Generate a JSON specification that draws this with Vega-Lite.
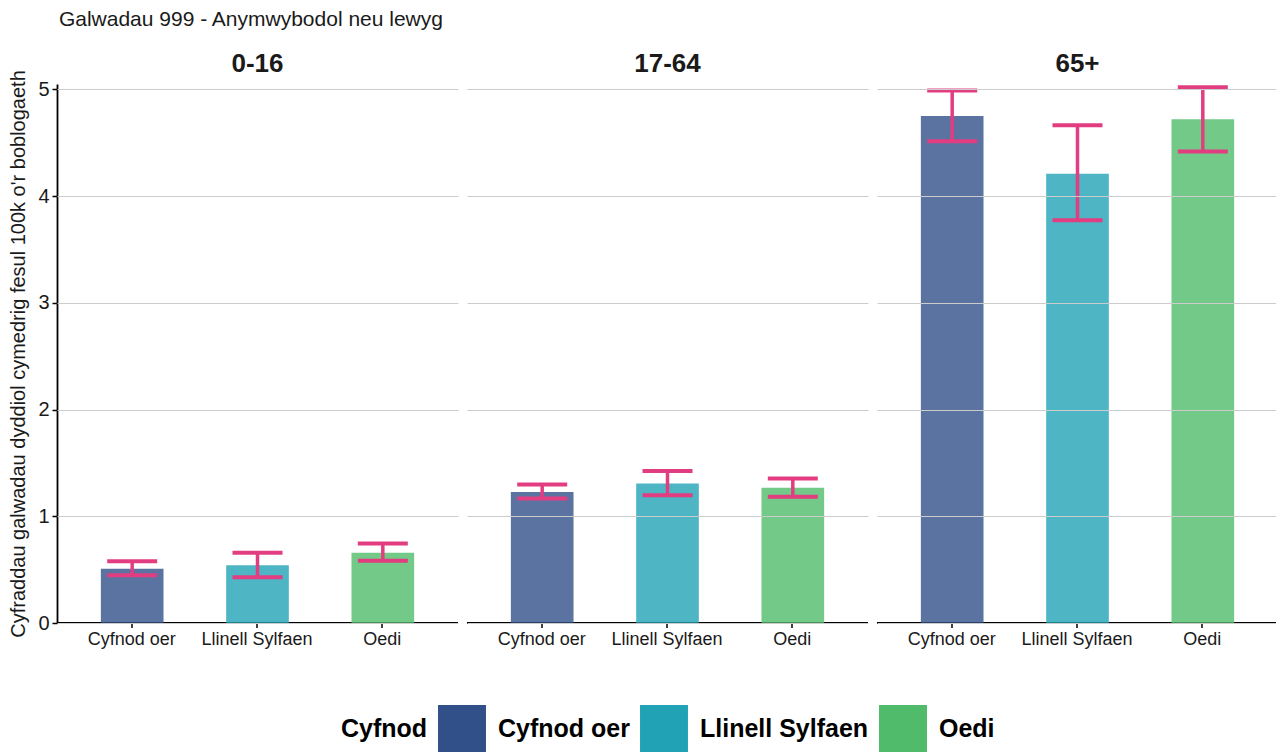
{
  "$schema": "https://vega.github.io/schema/vega-lite/v6.json",
  "padding": {"left": 8, "top": 9, "right": 0, "bottom": 0},
  "title": {"text": "Galwadau 999 - Anymwybodol neu lewyg", "anchor": "start", "fontSize": 21, "fontWeight": "normal", "font": "Liberation Sans", "color": "#1a1a1a", "offset": 21, "dx": 50},
  "data": {"values": [
    {"Oed": "0-16", "Cyfnod": "Cyfnod oer", "gwerth": 0.508, "isaf": 0.447, "uchaf": 0.578},
    {"Oed": "0-16", "Cyfnod": "Llinell Sylfaen", "gwerth": 0.54, "isaf": 0.428, "uchaf": 0.658},
    {"Oed": "0-16", "Cyfnod": "Oedi", "gwerth": 0.658, "isaf": 0.583, "uchaf": 0.746},
    {"Oed": "17-64", "Cyfnod": "Cyfnod oer", "gwerth": 1.227, "isaf": 1.167, "uchaf": 1.298},
    {"Oed": "17-64", "Cyfnod": "Llinell Sylfaen", "gwerth": 1.308, "isaf": 1.196, "uchaf": 1.423},
    {"Oed": "17-64", "Cyfnod": "Oedi", "gwerth": 1.267, "isaf": 1.183, "uchaf": 1.355},
    {"Oed": "65+", "Cyfnod": "Cyfnod oer", "gwerth": 4.75, "isaf": 4.513, "uchaf": 4.99},
    {"Oed": "65+", "Cyfnod": "Llinell Sylfaen", "gwerth": 4.21, "isaf": 3.773, "uchaf": 4.663},
    {"Oed": "65+", "Cyfnod": "Oedi", "gwerth": 4.72, "isaf": 4.417, "uchaf": 5.02}
  ]},
  "facet": {"column": {"field": "Oed", "type": "ordinal", "sort": ["0-16", "17-64", "65+"],
    "header": {"title": null, "labelFontSize": 26, "labelFontWeight": "bold", "labelFont": "Liberation Sans", "labelColor": "#1a1a1a", "labelPadding": 7}}},
  "spacing": 9,
  "spec": {
    "width": 401,
    "height": 539,
    "encoding": {
      "x": {"field": "Cyfnod", "type": "nominal", "sort": ["Cyfnod oer", "Llinell Sylfaen", "Oedi"],
        "scale": {"paddingInner": 0.5, "paddingOuter": 0.35},
        "axis": {"title": null, "labelAngle": 0, "labelFontSize": 18, "labelColor": "#1a1a1a", "domainColor": "#000000", "domainWidth": 2, "translate": 0, "tickColor": "#000000", "tickWidth": 1.5, "tickSize": 5, "labelPadding": 3, "grid": false, "zindex": 1}}
    },
    "layer": [
      {"mark": {"type": "bar", "opacity": 0.8},
       "encoding": {
         "y": {"field": "gwerth", "type": "quantitative", "scale": {"domain": [0, 5.05], "nice": false},
           "axis": {"title": "Cyfraddau galwadau dyddiol cymedrig fesul 100k o'r boblogaeth", "values": [0, 1, 2, 3, 4, 5], "format": "d", "titleFontSize": 20, "titleFontWeight": "normal", "titleColor": "#1a1a1a", "labelFontSize": 20, "labelColor": "#1a1a1a", "domainColor": "#000000", "domainWidth": 1.8, "tickColor": "#000000", "tickWidth": 1.5, "tickSize": 5, "labelPadding": 3, "gridColor": "#cccccc", "gridWidth": 1, "titlePadding": 9, "zindex": 1}},
         "color": {"field": "Cyfnod", "type": "nominal", "sort": ["Cyfnod oer", "Llinell Sylfaen", "Oedi"],
           "scale": {"range": ["#31508A", "#22A2B5", "#50BB6A"]},
           "legend": {"title": "Cyfnod", "orient": "none", "legendX": 284, "legendY": 621, "direction": "horizontal", "titleOrient": "left", "titleFontSize": 25, "titleFontWeight": "bold", "titleColor": "#000000", "labelFontSize": 25, "labelFontWeight": "bold", "labelColor": "#000000", "labelLimit": 400, "symbolType": "square", "symbolSize": 2300, "symbolOpacity": 1, "symbolStrokeWidth": 0, "columnPadding": 10, "labelOffset": 12, "titlePadding": 10}}
       }},
      {"mark": {"type": "rule", "color": "#E23D80", "strokeWidth": 3.5},
       "encoding": {"y": {"field": "isaf", "type": "quantitative"}, "y2": {"field": "uchaf"}}},
      {"mark": {"type": "tick", "color": "#E23D80", "thickness": 4, "size": 50, "opacity": 1},
       "encoding": {"y": {"field": "isaf", "type": "quantitative"}}},
      {"mark": {"type": "tick", "color": "#E23D80", "thickness": 4, "size": 50, "opacity": 1},
       "encoding": {"y": {"field": "uchaf", "type": "quantitative"}}}
    ]
  },
  "config": {
    "font": "Liberation Sans",
    "view": {"stroke": null},
    "axis": {"labelFont": "Liberation Sans", "titleFont": "Liberation Sans"},
    "legend": {"labelFont": "Liberation Sans", "titleFont": "Liberation Sans"}
  }
}
